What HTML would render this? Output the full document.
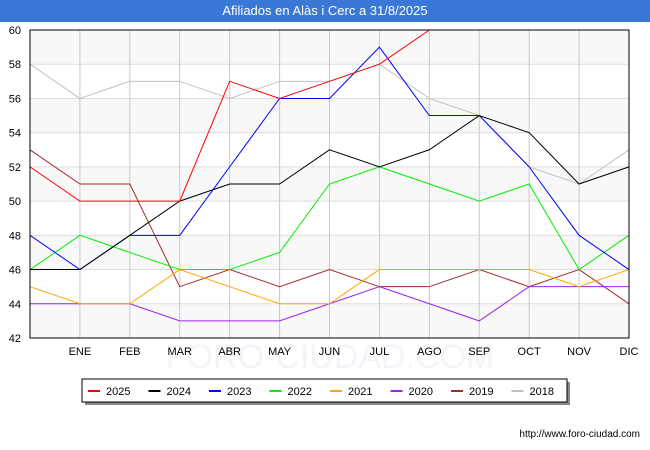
<!DOCTYPE html>
<html><head><meta charset="utf-8"><style>
body{margin:0;width:650px;height:450px;background:#fff;font-family:"Liberation Sans",sans-serif;overflow:hidden}
#title{position:absolute;left:0;top:0;width:650px;height:22px;background:#3a78d8;color:#fff;font-size:13px;text-align:center;line-height:22px}
svg{position:absolute;left:0;top:0}
</style></head><body>
<div id="title">Afiliados en Alàs i Cerc a 31/8/2025</div>
<svg id="c" width="650" height="450"></svg>
<script>
const months=["","ENE","FEB","MAR","ABR","MAY","JUN","JUL","AGO","SEP","OCT","NOV","DIC"];
const yTicks=[42,44,46,48,50,52,54,56,58,60];
const seriesNames=["2025","2024","2023","2022","2021","2020","2019","2018"];
const seriesColors=["#ff0000","#000000","#0000ff","#00ee00","#ffa500","#a020f0","#a52a2a","#c0c0c0"];
const s2025=[52,50,50,50,57,56,57,58,60];
const s2024=[46,46,48,50,51,51,53,52,53,55,54,51,52];
const s2023=[48,46,48,48,52,56,56,59,55,55,52,48,46];
const s2022=[46,48,47,46,46,47,51,52,51,50,51,46,48];
const s2021=[45,44,44,46,45,44,44,46,46,46,46,45,46];
const s2020=[44,44,44,43,43,43,44,45,44,43,45,45,45];
const s2019=[53,51,51,45,46,45,46,45,45,46,45,46,44];
const s2018=[58,56,57,57,56,57,57,58,56,55,52,51,53];
const allSeries=[s2025,s2024,s2023,s2022,s2021,s2020,s2019,s2018];
const L=30,R=629,T=30,B=338;
const x=i=>L+i*(R-L)/12;
const y=v=>B-(v-42)*(B-T)/18;
const svg=document.getElementById('c');const NS="http://www.w3.org/2000/svg";
function mk(t,a,p){const e=document.createElementNS(NS,t);for(const k in a)e.setAttribute(k,a[k]);(p||svg).appendChild(e);return e;}
for(let i=0;i<yTicks.length-1;i++){if(i%2==0){const r=mk('rect',{x:L,y:y(yTicks[i+1]),width:R-L,height:y(yTicks[i])-y(yTicks[i+1]),fill:'#f8f8f8'});}}
const wm=mk('text',{x:330,y:368,'text-anchor':'middle','font-size':34,fill:'#f3f4fa'});wm.textContent="FORO-CIUDAD.COM";
yTicks.forEach(v=>{const l=mk('line',{x1:L,x2:R,y1:y(v),y2:y(v),stroke:'#dddddd'});
const t=mk('text',{x:L-9,y:y(v)+4,'text-anchor':'end','font-size':11,fill:'#000'});t.textContent=v;});
months.forEach((m,i)=>{const l=mk('line',{x1:x(i),x2:x(i),y1:T,y2:B,stroke:'#c8c8c8'});
if(m){const t=mk('text',{x:x(i),y:B+17,'text-anchor':'middle','font-size':11,fill:'#000'});t.textContent=m;}});
for(let s=allSeries.length-1;s>=0;s--){const p=mk('polyline',{points:allSeries[s].map((v,i)=>x(i)+','+y(v)).join(' '),fill:'none',stroke:seriesColors[s],'stroke-width':1});}
const fr=mk('rect',{x:L,y:T,width:R-L,height:B-T,fill:'none',stroke:'#000'});
const sh=mk('rect',{x:85,y:382,width:485,height:23,fill:'#888'});
const lg=mk('rect',{x:82,y:379,width:485,height:23,fill:'#fff',stroke:'#000'});
seriesNames.forEach((n,i)=>{const g=mk('g',{});const lx=88+i*60.5;
mk('line',{x1:lx,x2:lx+12,y1:391,y2:391,stroke:seriesColors[i],'stroke-width':2},g);const t=mk('text',{x:lx+18,y:395,'font-size':11,fill:'#000'},g);t.textContent=n;});
const u=mk('text',{x:640,y:437,'text-anchor':'end','font-size':10,fill:'#000'});u.textContent="http://www.foro-ciudad.com";
</script>
</body></html>
